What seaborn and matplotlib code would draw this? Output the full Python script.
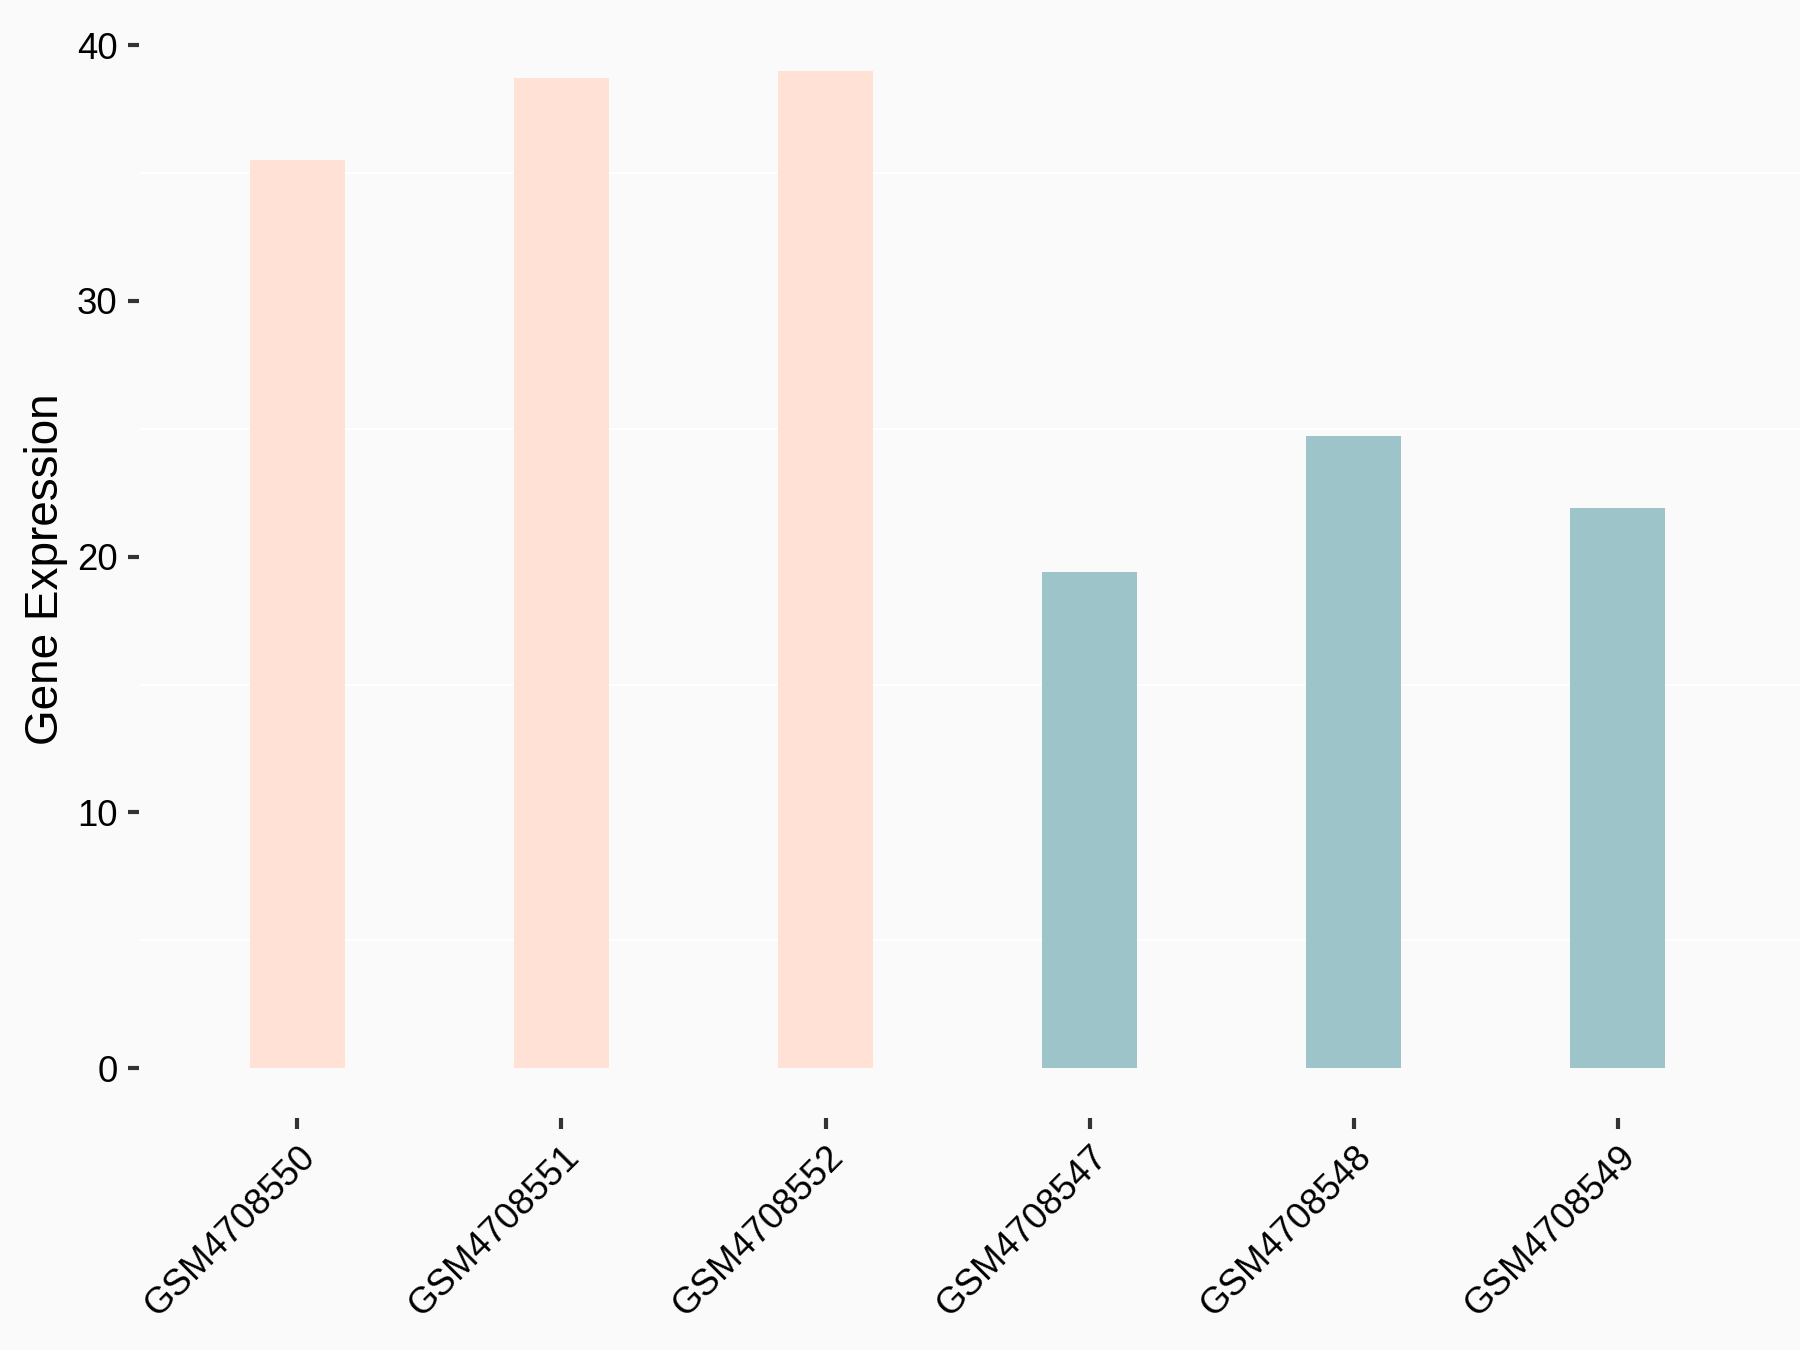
import pandas as pd
import numpy as np
import matplotlib.pyplot as plt
import matplotlib as mpl
import seaborn as sns

samples = ['GSM4708550', 'GSM4708551', 'GSM4708552',
           'GSM4708547', 'GSM4708548', 'GSM4708549']
expression = [35.5, 38.7, 39.0, 19.4, 24.7, 21.9]
groups = ['A', 'A', 'A', 'B', 'B', 'B']
group_colors = {'A': '#FFE1D6', 'B': '#9DC4C8'}

BG = '#FAFAFA'

sns.set_style("ticks")
plt.rcParams['font.family'] = ['Liberation Sans', 'DejaVu Sans']
mpl.rc("figure", facecolor=BG)

df = pd.DataFrame({'sample': samples, 'expr': expression, 'group': groups})

fig = plt.figure(figsize=(12, 9), dpi=150)
ax = fig.add_axes([0.0772, 0.1718, 0.9228, 0.8138])
ax.set_facecolor(BG)

# minor gridlines only (white)
for v in [5, 15, 25, 35]:
    ax.axhline(v, color='white', lw=1.0, zorder=0)

sns.barplot(data=df, x='sample', y='expr', hue='group', order=samples,
            palette=group_colors, dodge=False, width=0.36, legend=False,
            saturation=1, linewidth=0, ax=ax, zorder=2)

ax.set_xlim(-0.6, 5.69)
ax.set_ylim(-1.95, 41.0)
ax.set_yticks([0, 10, 20, 30, 40])

for s in ax.spines.values():
    s.set_visible(False)

ax.tick_params(axis='both', length=5.5, width=2.0, color='#333333',
               labelsize=17.5, labelcolor='black', pad=4.8)
plt.setp(ax.get_xticklabels(), rotation=45, ha='right', va='top',
         rotation_mode='anchor')

ax.set_xlabel("")
ax.set_ylabel("Gene Expression", fontsize=22, color='black')
ax.yaxis.set_label_coords(-0.043, 0.5)

fig.savefig('out.png', dpi=150, facecolor=BG)
